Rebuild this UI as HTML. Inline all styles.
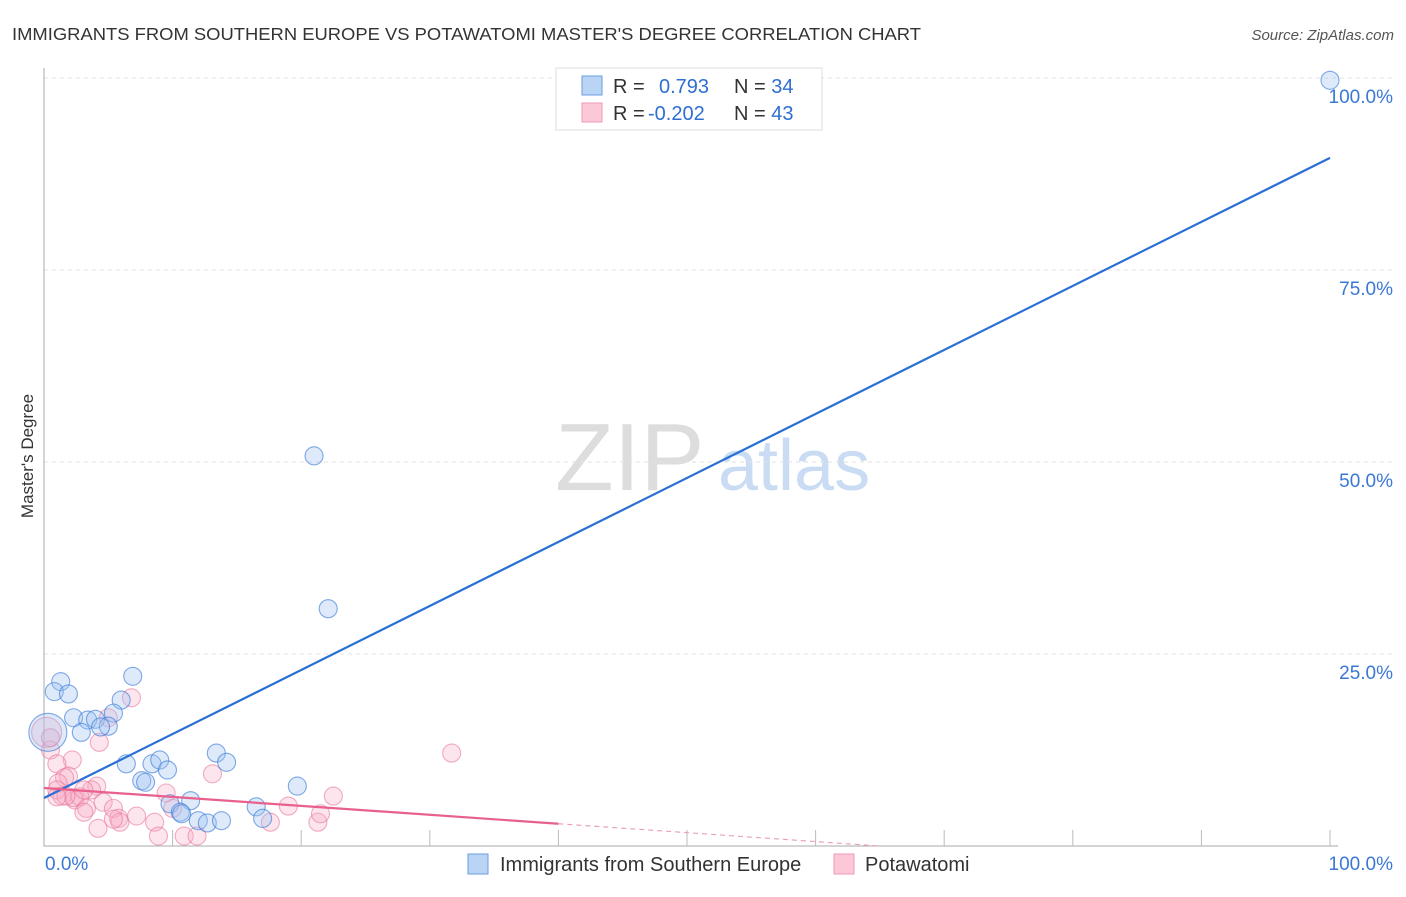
<!DOCTYPE html>
<html><head><meta charset="utf-8"><style>
body{margin:0;background:#fff;font-family:"Liberation Sans",sans-serif}
svg text{font-family:"Liberation Sans",sans-serif}
</style></head><body>
<svg id="c" width="1406" height="892">
<text x="12" y="40" font-size="17.5" fill="#333" textLength="909" lengthAdjust="spacingAndGlyphs">IMMIGRANTS FROM SOUTHERN EUROPE VS POTAWATOMI MASTER'S DEGREE CORRELATION CHART</text>
<text x="1394" y="40" font-size="15" fill="#555" font-style="italic" text-anchor="end">Source: ZipAtlas.com</text>
<text x="0" y="0" transform="translate(33,456) rotate(-90)" font-size="17" fill="#333" text-anchor="middle">Master's Degree</text>
<g><text x="555" y="490" font-size="96" fill="#ddd" font-family="Liberation Serif">ZIP</text><text x="718" y="490" font-size="72" fill="#c9dcf3">atlas</text></g>
<g id="grid"></g><g id="pts"></g><g id="lines"></g>
<g>
<rect x="556" y="68" width="266" height="62" fill="#fff" stroke="#ddd"/>
<rect x="582" y="76" width="20" height="19" fill="#b9d4f5" stroke="#6a9ee0"/>
<rect x="582" y="103" width="20" height="19" fill="#fcc8d8" stroke="#ee9ab4"/>
<text x="613" y="93" font-size="20" fill="#333">R = <tspan fill="#2f6fd0" x="659">0.793</tspan><tspan x="734" fill="#333">N = </tspan><tspan fill="#2f6fd0">34</tspan></text>
<text x="613" y="120" font-size="20" fill="#333">R = <tspan fill="#2f6fd0" x="648">-0.202</tspan><tspan x="734" fill="#333">N = </tspan><tspan fill="#2f6fd0">43</tspan></text>
</g>
<g>
<rect x="468" y="854" width="20" height="20" fill="#b9d4f5" stroke="#6a9ee0"/>
<text x="500" y="871" font-size="20" fill="#333">Immigrants from Southern Europe</text>
<rect x="834" y="854" width="20" height="20" fill="#fcc8d8" stroke="#ee9ab4"/>
<text x="865" y="871" font-size="20" fill="#333">Potawatomi</text>
</g>
</svg>
<script>
const yTicks=[25,50,75,100];
const yTickLabels=["25.0%","50.0%","75.0%","100.0%"];
const blueX=[100,21.0,22.1,1.3,0.8,1.9,6.9,6.0,5.4,2.3,3.4,4.0,5.0,4.4,2.9,0.3,6.4,8.4,9.0,9.6,7.6,7.9,13.4,14.2,19.7,9.8,11.4,10.6,10.7,12.0,12.7,13.8,16.5,17.0];
const blueY=[99.7,50.8,30.9,21.4,20.1,19.8,22.1,19.0,17.3,16.7,16.4,16.5,15.6,15.5,14.8,14.8,10.7,10.7,11.2,9.9,8.5,8.3,12.1,10.9,7.8,5.5,5.9,4.4,4.2,3.3,3.0,3.3,5.1,3.6];
const blueBig=[15];
const pinkX=[0.2,6.8,5.0,0.5,4.3,2.2,1.0,1.9,1.6,1.1,1.0,1.4,2.4,4.1,3.7,2.3,2.8,4.6,3.3,3.1,5.4,5.8,5.9,5.4,4.2,7.2,8.6,8.9,10.9,11.9,9.5,10.0,13.1,17.6,19.0,21.3,21.5,22.5,31.7,0.5,1.7,1.0,3.1];
const pinkY=[14.8,19.3,16.7,12.5,13.5,11.2,10.7,9.1,8.9,8.2,7.3,6.5,6.0,7.8,7.3,6.3,6.4,5.7,4.9,4.4,4.9,3.6,3.1,3.5,2.3,3.9,3.1,1.3,1.3,1.3,6.9,4.9,9.4,3.1,5.2,3.1,4.2,6.5,12.1,14.1,6.5,6.4,7.3];
const pinkBig=[0];
const blueFit=[6.25,89.6];
const pinkFit=[7.55,2.9];
const pinkSolidEnd=40;
const X0=44,X1=1330,Y0=846,Y1=78;
const sx=v=>X0+(X1-X0)*v/100, sy=v=>Y0-(Y0-Y1)*v/100;
const NS="http://www.w3.org/2000/svg";
function mk(tag,attrs,parent){const e=document.createElementNS(NS,tag);for(const k in attrs)e.setAttribute(k,attrs[k]);parent.appendChild(e);return e;}
const grid=document.getElementById('grid');
yTicks.forEach((t,i)=>{
 const l=mk('line',{x1:X0,x2:1392,y1:sy(t),y2:sy(t),stroke:'#e2e2e2','stroke-dasharray':'4 4'},grid);
 
 
 const tx=mk('text',{x:1393,y:sy(t)+25,'font-size':19,fill:'#3a78d4','text-anchor':'end'},grid);
 tx.textContent=yTickLabels[i];
 
 
});
const ax=mk('path',{d:`M${X0} 68V${Y0}H${X1+8}`,stroke:'#aaa',fill:'none'},grid);


for(let i=1;i<=10;i++){const t=mk('line',{x1:sx(i*10),x2:sx(i*10),y1:Y0-16,y2:Y0,stroke:'#bbb'},grid);
 
 }
const xl=mk('text',{x:45,y:870,'font-size':19,fill:'#3a78d4'},grid);xl.textContent='0.0%';


const xr=mk('text',{x:1393,y:870,'font-size':19,fill:'#3a78d4','text-anchor':'end'},grid);xr.textContent='100.0%';


const pts=document.getElementById('pts');
pinkX.forEach((x,i)=>{const c=mk('circle',{cx:sx(x),cy:sy(pinkY[i]),r:pinkBig.includes(i)?15:9,fill:'rgba(248,170,195,0.3)',stroke:'rgba(232,120,155,0.6)','stroke-width':1.1},pts);
 
 });
blueX.forEach((x,i)=>{const c=mk('circle',{cx:sx(x),cy:sy(blueY[i]),r:blueBig.includes(i)?19:9,fill:'rgba(160,195,240,0.35)',stroke:'rgba(60,125,215,0.65)','stroke-width':1.1},pts);
 
 });
const lines=document.getElementById('lines');
const bl=mk('line',{x1:sx(0),y1:sy(blueFit[0]),x2:sx(100),y2:sy(blueFit[1]),stroke:'#2a6fd6','stroke-width':2.2},lines);


const pf=x=>pinkFit[0]+(pinkFit[1]-pinkFit[0])*x/pinkSolidEnd;
const pl=mk('line',{x1:sx(0),y1:sy(pf(0)),x2:sx(pinkSolidEnd),y2:sy(pf(pinkSolidEnd)),stroke:'#e8608c','stroke-width':2.2},lines);


const xz=-pinkFit[0]*pinkSolidEnd/(pinkFit[1]-pinkFit[0]);
const pd=mk('line',{x1:sx(pinkSolidEnd),y1:sy(pf(pinkSolidEnd)),x2:sx(xz),y2:sy(0),stroke:'#eaa0b8','stroke-width':1.2,'stroke-dasharray':'5 4'},lines);


</script>
</body></html>
